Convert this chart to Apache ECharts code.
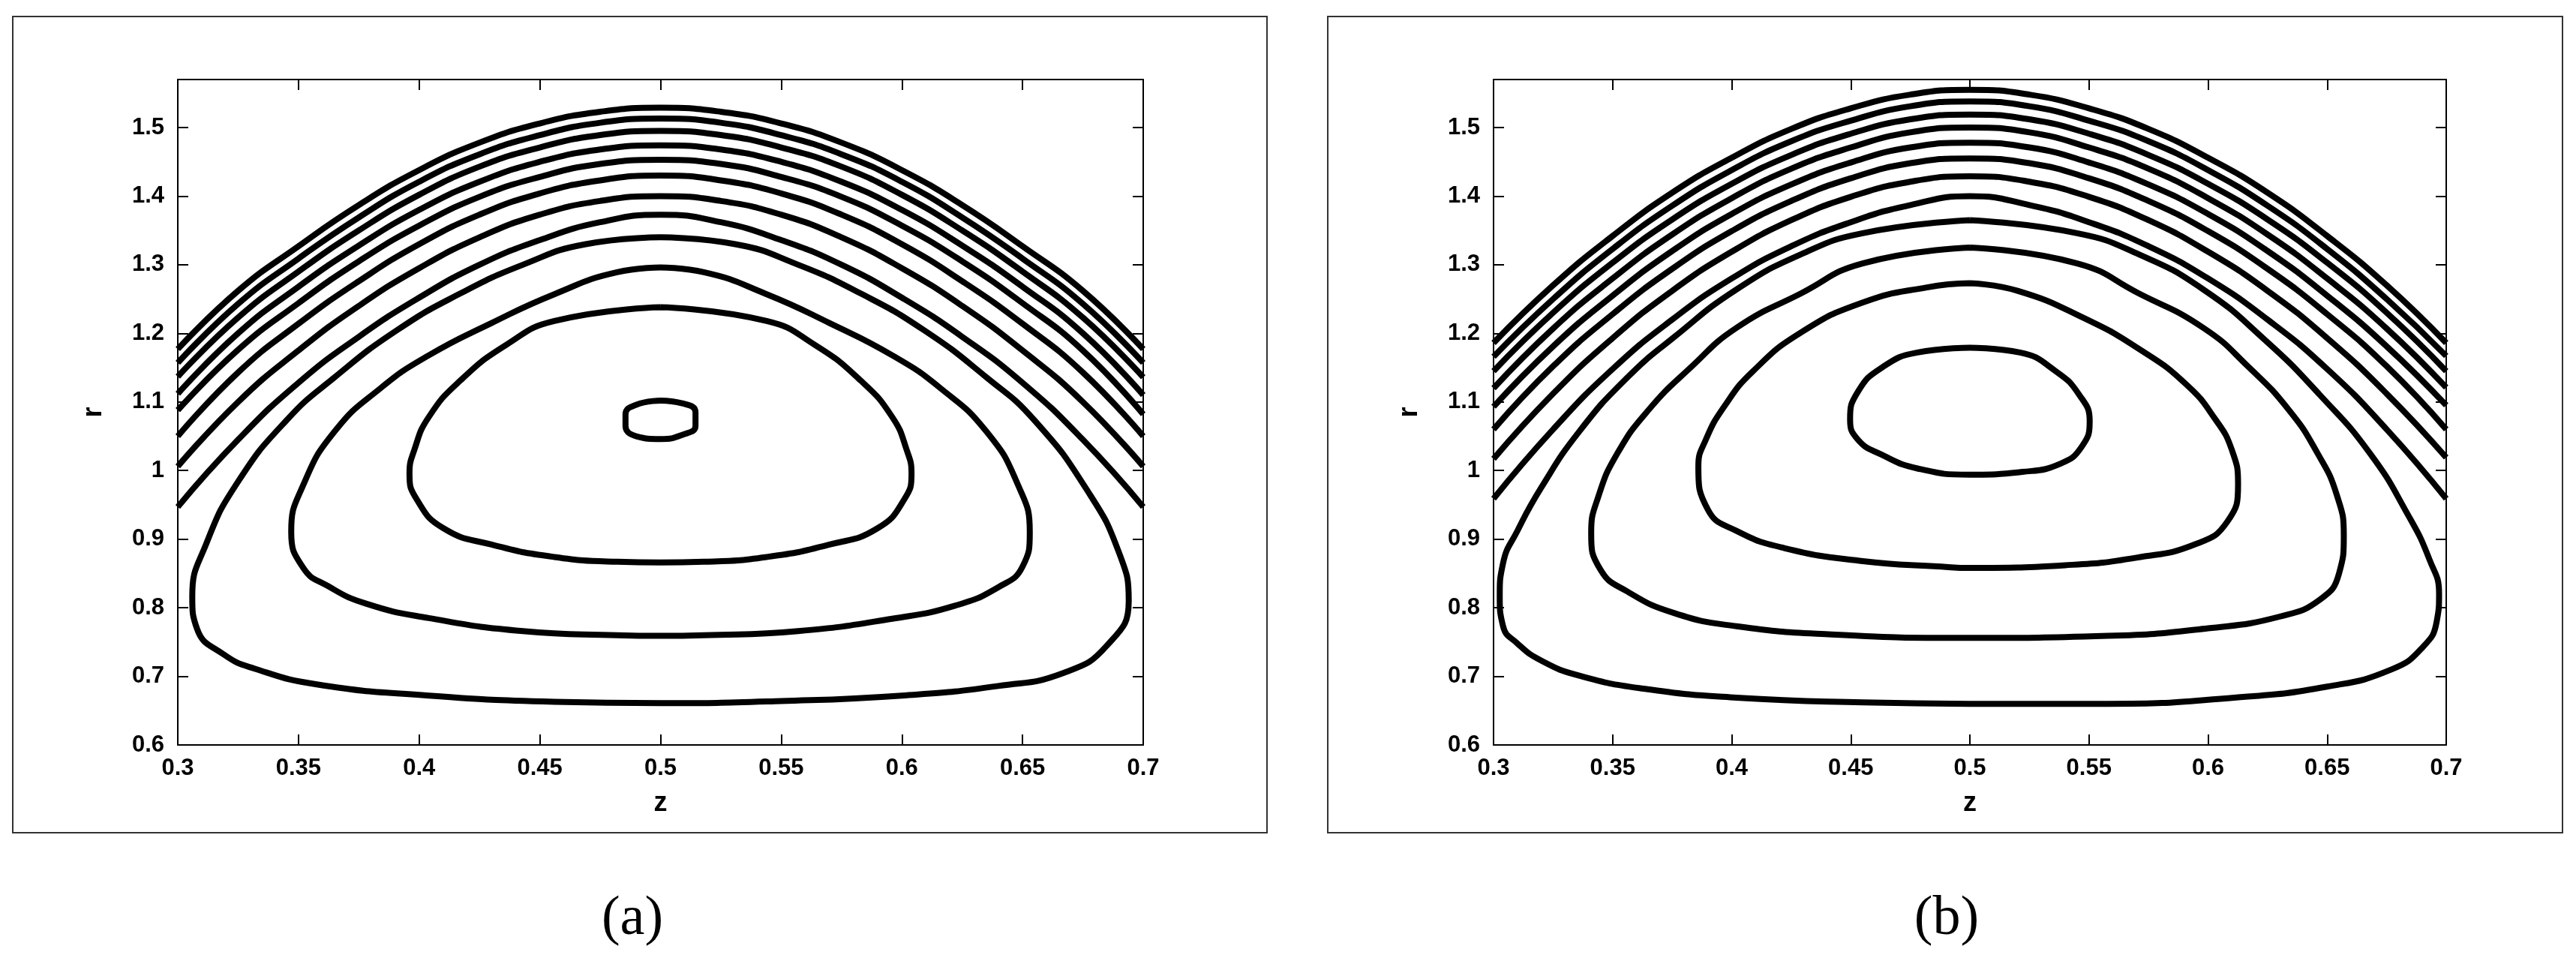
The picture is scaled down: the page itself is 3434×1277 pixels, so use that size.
<!DOCTYPE html>
<html>
<head>
<meta charset="utf-8">
<script src="https://cdn.jsdelivr.net/npm/echarts@6/dist/echarts.min.js"></script>
<style>
  html, body { margin: 0; padding: 0; background: #fff; }
  #chart { width: 3434px; height: 1277px; }
</style>
</head>
<body>
<div id="chart"></div>
<script>
// z positions where the open arches were read
const zGrid = [0.3, 0.325, 0.35, 0.375, 0.4, 0.425, 0.45, 0.475, 0.5, 0.525, 0.55, 0.575, 0.6, 0.625, 0.65, 0.675, 0.7];

const xTicks = { min: 0.3, max: 0.7, interval: 0.05 };
const yTicks = { min: 0.6, max: 1.57, interval: 0.1 };

// panel (a): open arches, r at each zGrid point
const archesA = [
    [1.177, 1.262, 1.327, 1.387, 1.438, 1.478, 1.506, 1.523, 1.529, 1.523, 1.506, 1.478, 1.438, 1.387, 1.327, 1.262, 1.177],
    [1.157, 1.243, 1.309, 1.369, 1.421, 1.461, 1.489, 1.507, 1.513, 1.507, 1.489, 1.461, 1.421, 1.369, 1.309, 1.243, 1.157],
    [1.137, 1.223, 1.290, 1.350, 1.402, 1.443, 1.471, 1.489, 1.495, 1.489, 1.471, 1.443, 1.402, 1.350, 1.290, 1.223, 1.136],
    [1.112, 1.200, 1.268, 1.328, 1.380, 1.421, 1.450, 1.468, 1.474, 1.468, 1.450, 1.421, 1.380, 1.328, 1.268, 1.200, 1.110],
    [1.088, 1.176, 1.244, 1.305, 1.357, 1.399, 1.428, 1.447, 1.453, 1.447, 1.428, 1.399, 1.357, 1.305, 1.244, 1.175, 1.082],
    [1.050, 1.143, 1.214, 1.276, 1.330, 1.373, 1.404, 1.423, 1.430, 1.423, 1.404, 1.373, 1.330, 1.276, 1.214, 1.143, 1.050],
    [1.006, 1.100, 1.175, 1.240, 1.295, 1.340, 1.373, 1.393, 1.400, 1.393, 1.373, 1.340, 1.295, 1.240, 1.175, 1.100, 1.006],
    [0.947, 1.045, 1.128, 1.195, 1.252, 1.300, 1.336, 1.362, 1.373, 1.362, 1.336, 1.300, 1.252, 1.195, 1.128, 1.045, 0.947]
];

// panel (a): closed contours as [z, r] points
const ringsA = [
    [[0.5, 1.34], [0.469, 1.33], [0.443, 1.30], [0.417, 1.258], [0.391, 1.205], [0.365, 1.136], [0.345, 1.073], [0.325, 0.984],
     [0.312, 0.895], [0.306, 0.816], [0.308, 0.769], [0.319, 0.732], [0.332, 0.711], [0.358, 0.688], [0.404, 0.672], [0.456, 0.663],
     [0.5, 0.661], [0.55, 0.664], [0.6, 0.672], [0.64, 0.686], [0.667, 0.705], [0.685, 0.745], [0.694, 0.81], [0.69, 0.88],
     [0.677, 0.97], [0.655, 1.073], [0.635, 1.136], [0.609, 1.205], [0.583, 1.258], [0.557, 1.30], [0.531, 1.33], [0.5, 1.34]],
    [[0.5, 1.296], [0.482, 1.289], [0.456, 1.257], [0.43, 1.215], [0.404, 1.168], [0.384, 1.12], [0.365, 1.057], [0.352, 0.979],
     [0.347, 0.911], [0.352, 0.858], [0.362, 0.832], [0.378, 0.806], [0.404, 0.785], [0.443, 0.766], [0.482, 0.76], [0.5, 0.759],
     [0.518, 0.76], [0.557, 0.766], [0.596, 0.784], [0.622, 0.803], [0.640, 0.83], [0.650, 0.86], [0.653, 0.91], [0.648, 0.98],
     [0.635, 1.057], [0.616, 1.12], [0.596, 1.168], [0.57, 1.215], [0.544, 1.257], [0.518, 1.289], [0.5, 1.296]],
    [[0.5, 1.238], [0.456, 1.218], [0.436, 1.183], [0.417, 1.131], [0.404, 1.078], [0.398, 1.03], [0.396, 0.995], [0.399, 0.958],
     [0.41, 0.916], [0.43, 0.892], [0.456, 0.874], [0.482, 0.867], [0.5, 0.866], [0.518, 0.867], [0.544, 0.874], [0.57, 0.892],
     [0.59, 0.916], [0.601, 0.958], [0.604, 0.995], [0.602, 1.03], [0.596, 1.078], [0.583, 1.131], [0.564, 1.183], [0.544, 1.218], [0.5, 1.238]],
    [[0.5, 1.102], [0.509, 1.098], [0.5145, 1.085], [0.5145, 1.065], [0.509, 1.052], [0.5, 1.046], [0.49, 1.05], [0.4855, 1.065],
     [0.4855, 1.082], [0.49, 1.096], [0.5, 1.102]]
];

// panel (b): open arches
const archesB = [
    [1.186, 1.270, 1.342, 1.405, 1.456, 1.498, 1.528, 1.548, 1.555, 1.548, 1.528, 1.498, 1.456, 1.405, 1.342, 1.270, 1.186],
    [1.166, 1.250, 1.323, 1.386, 1.438, 1.480, 1.510, 1.531, 1.538, 1.531, 1.510, 1.480, 1.438, 1.386, 1.323, 1.250, 1.167],
    [1.145, 1.230, 1.303, 1.366, 1.418, 1.460, 1.491, 1.512, 1.519, 1.512, 1.491, 1.460, 1.418, 1.366, 1.303, 1.230, 1.145],
    [1.120, 1.207, 1.280, 1.344, 1.397, 1.440, 1.471, 1.493, 1.500, 1.493, 1.471, 1.440, 1.397, 1.344, 1.280, 1.207, 1.121],
    [1.093, 1.181, 1.255, 1.320, 1.374, 1.417, 1.449, 1.471, 1.478, 1.471, 1.449, 1.417, 1.374, 1.320, 1.255, 1.181, 1.095],
    [1.060, 1.152, 1.228, 1.294, 1.349, 1.393, 1.426, 1.448, 1.455, 1.448, 1.426, 1.393, 1.349, 1.294, 1.228, 1.152, 1.060],
    [1.017, 1.112, 1.193, 1.262, 1.319, 1.365, 1.399, 1.421, 1.429, 1.421, 1.399, 1.365, 1.319, 1.262, 1.193, 1.112, 1.019],
    [0.959, 1.060, 1.148, 1.220, 1.280, 1.327, 1.362, 1.387, 1.400, 1.387, 1.362, 1.327, 1.280, 1.220, 1.148, 1.060, 0.959]
];

// panel (b): closed contours
const ringsB = [
    [[0.5, 1.365], [0.455, 1.346], [0.429, 1.315], [0.402, 1.264], [0.376, 1.195], [0.356, 1.135], [0.336, 1.057], [0.32, 0.975],
     [0.31, 0.912], [0.304, 0.865], [0.3026, 0.817], [0.304, 0.773], [0.31, 0.748], [0.32, 0.723], [0.336, 0.701], [0.363, 0.682],
     [0.402, 0.669], [0.455, 0.662], [0.5, 0.660], [0.558, 0.660], [0.611, 0.669], [0.65, 0.685], [0.677, 0.71], [0.69, 0.742],
     [0.696, 0.78], [0.697, 0.82], [0.693, 0.87], [0.684, 0.935], [0.668, 1.025], [0.647, 1.11], [0.624, 1.19], [0.598, 1.264],
     [0.571, 1.315], [0.545, 1.346], [0.5, 1.365]],
    [[0.5, 1.325], [0.455, 1.302], [0.429, 1.258], [0.402, 1.208], [0.383, 1.151], [0.365, 1.088], [0.352, 1.025], [0.344, 0.962],
     [0.341, 0.909], [0.345, 0.855], [0.356, 0.824], [0.376, 0.792], [0.402, 0.773], [0.442, 0.761], [0.5, 0.756], [0.558, 0.759],
     [0.6, 0.77], [0.63, 0.787], [0.647, 0.812], [0.655, 0.85], [0.657, 0.905], [0.654, 0.965], [0.646, 1.025], [0.634, 1.088],
     [0.617, 1.151], [0.598, 1.208], [0.571, 1.258], [0.545, 1.302], [0.5, 1.325]],
    [[0.5, 1.273], [0.482, 1.267], [0.455, 1.245], [0.429, 1.201], [0.409, 1.145], [0.397, 1.094], [0.389, 1.044], [0.386, 1.006],
     [0.39, 0.943], [0.402, 0.912], [0.422, 0.887], [0.455, 0.868], [0.488, 0.86], [0.5, 0.858], [0.54, 0.862], [0.57, 0.873],
     [0.595, 0.893], [0.608, 0.925], [0.6126, 0.98], [0.61, 1.03], [0.603, 1.075], [0.591, 1.125], [0.572, 1.175], [0.548, 1.222],
     [0.52, 1.262], [0.5, 1.273]],
    [[0.5, 1.179], [0.478, 1.172], [0.463, 1.15], [0.453, 1.115], [0.4497, 1.075], [0.453, 1.045], [0.463, 1.023], [0.478, 1.003],
     [0.5, 0.994], [0.522, 0.998], [0.538, 1.01], [0.547, 1.035], [0.5503, 1.072], [0.546, 1.11], [0.536, 1.145], [0.521, 1.172],
     [0.5, 1.179]]
];

const panels = [
    { label: '(a)', arches: archesA, rings: ringsA, grid: { left: 237, top: 106, width: 1287, height: 887 }, box: [17, 22, 1672, 1088], cx: 843 },
    { label: '(b)', arches: archesB, rings: ringsB, grid: { left: 1991, top: 106, width: 1270, height: 887 }, box: [1770, 22, 1646, 1088], cx: 2595 }
];

const labelFont = { fontFamily: 'Liberation Sans', fontWeight: 'bold', fontSize: 31, color: '#000' };

var grids = [], xAxes = [], yAxes = [], series = [], graphics = [];

panels.forEach(function (p, i) {
    grids.push(p.grid);
    [0, 1].forEach(function (k) {
        xAxes.push({
            type: 'value', gridIndex: i, position: k === 0 ? 'bottom' : 'top',
            min: xTicks.min, max: xTicks.max, interval: xTicks.interval,
            name: k === 0 ? 'z' : '', nameLocation: 'middle', nameGap: 60,
            nameTextStyle: { fontFamily: 'Liberation Sans', fontWeight: 'bold', fontSize: 36, color: '#000' },
            axisLine: { show: true, lineStyle: { color: '#000', width: 2 } },
            axisTick: { show: true, inside: true, length: 14, lineStyle: { color: '#000', width: 2 } },
            axisLabel: Object.assign({ show: k === 0, margin: 16 }, labelFont),
            splitLine: { show: false }
        });
        yAxes.push({
            type: 'value', gridIndex: i, position: k === 0 ? 'left' : 'right',
            min: yTicks.min, max: yTicks.max, interval: yTicks.interval,
            name: k === 0 ? 'r' : '', nameLocation: 'middle', nameGap: 94, nameRotate: 90,
            nameTextStyle: { fontFamily: 'Liberation Sans', fontWeight: 'bold', fontSize: 36, color: '#000' },
            axisLine: { show: true, lineStyle: { color: '#000', width: 2 } },
            axisTick: { show: true, inside: true, length: 14, lineStyle: { color: '#000', width: 2 } },
            axisLabel: Object.assign({ show: k === 0, margin: 18, showMaxLabel: false }, labelFont),
            splitLine: { show: false }
        });
    });

    var lineStyle = { color: '#000', width: 8 };
    p.arches.forEach(function (rs) {
        series.push({
            type: 'line', xAxisIndex: i * 2, yAxisIndex: i * 2, smooth: 0.5, showSymbol: false,
            lineStyle: lineStyle, silent: true,
            data: rs.map(function (r, j) { return [zGrid[j], r]; })
        });
    });
    p.rings.forEach(function (pts) {
        series.push({
            type: 'line', xAxisIndex: i * 2, yAxisIndex: i * 2, smooth: 0.5, showSymbol: false,
            lineStyle: lineStyle, silent: true, data: pts
        });
    });

    graphics.push({
        type: 'rect', shape: { x: p.box[0], y: p.box[1], width: p.box[2], height: p.box[3] },
        style: { fill: 'none', stroke: '#333', lineWidth: 2 }
    });
    graphics.push({
        type: 'text', x: p.cx, y: 1226,
        style: { text: p.label, font: '74px "Liberation Serif"', fill: '#000', textAlign: 'center', textVerticalAlign: 'middle' }
    });
});

var chart = echarts.init(document.getElementById('chart'));
chart.setOption({
    animation: false,
    backgroundColor: '#fff',
    grid: grids,
    xAxis: xAxes,
    yAxis: yAxes,
    series: series,
    graphic: graphics
});
</script>
</body>
</html>
